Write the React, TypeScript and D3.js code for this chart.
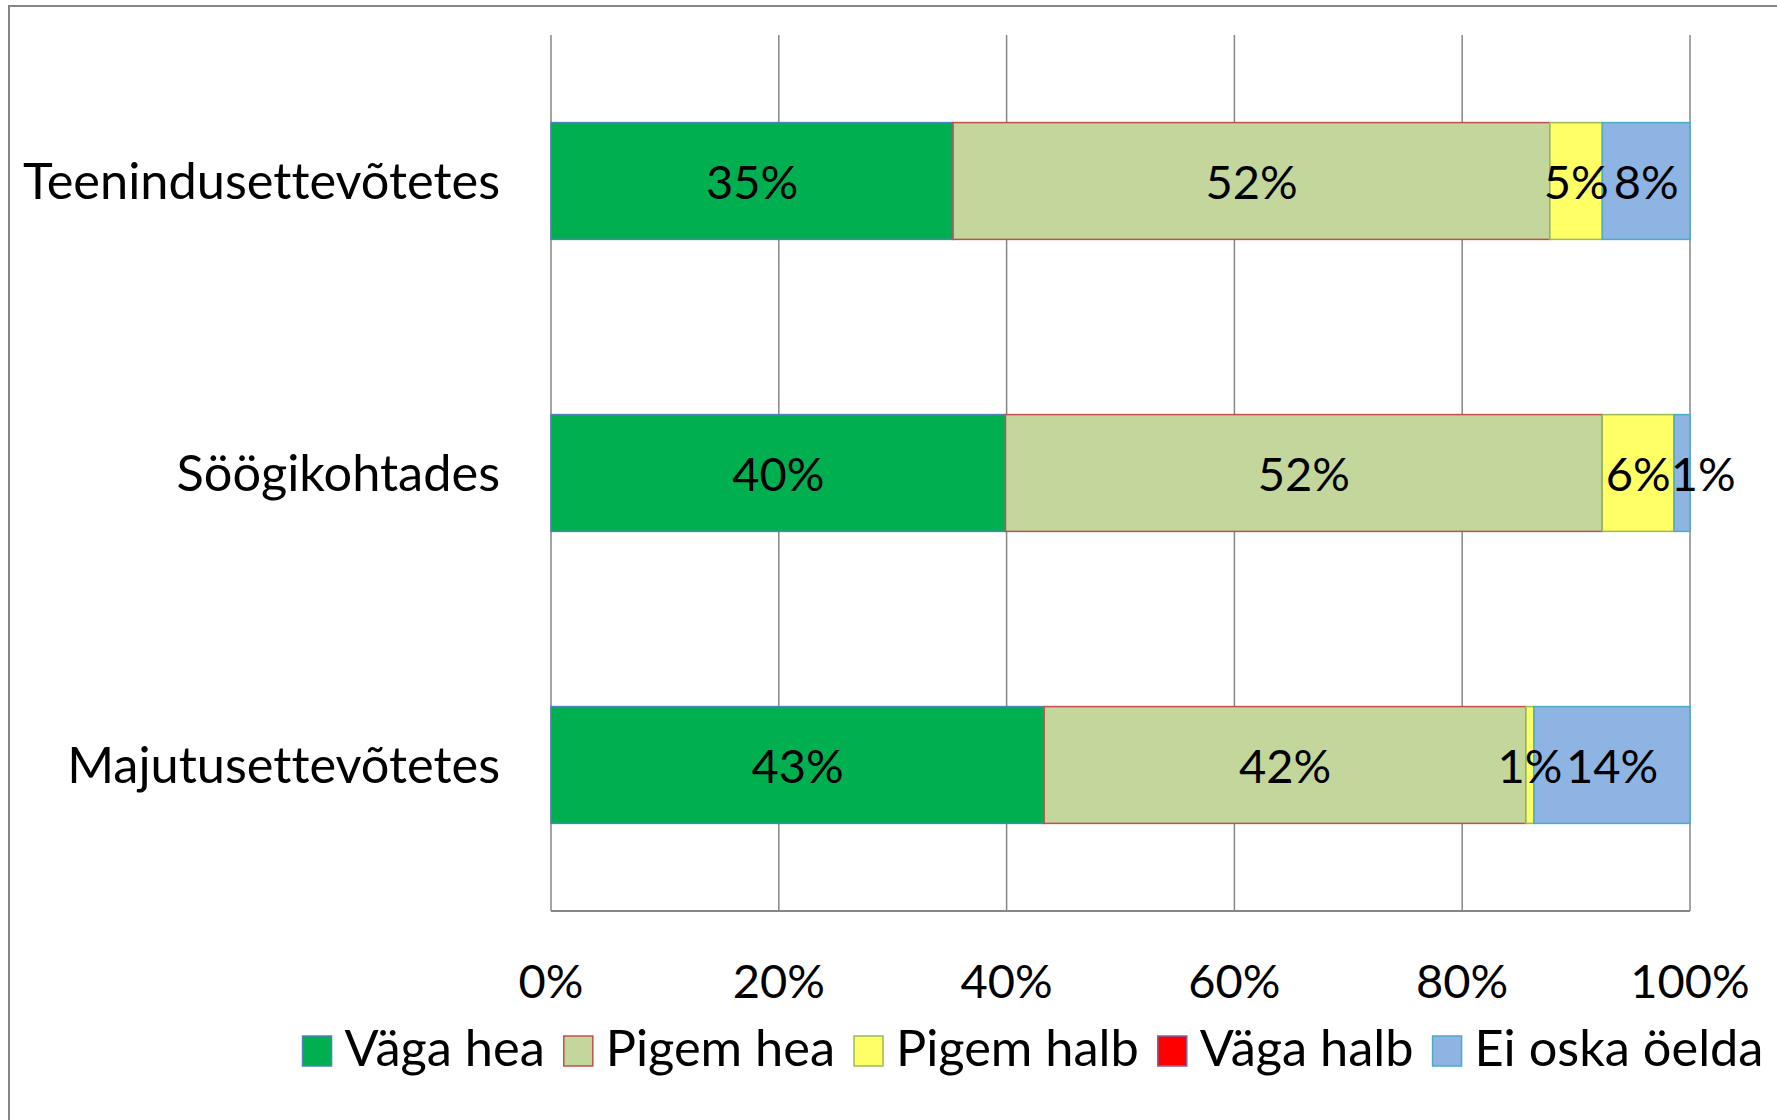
import React, { useEffect, useRef } from 'react';
import * as d3 from 'd3';

const categories = ['Teenindusettevõtetes', 'Söögikohtades', 'Majutusettevõtetes'];
const seriesNames = ['Väga hea', 'Pigem hea', 'Pigem halb', 'Väga halb', 'Ei oska öelda'];
const vagaHea = [35.3, 39.9, 43.3];
const pigemHea = [52.4, 52.4, 42.3];
const pigemHalb = [4.6, 6.3, 0.7];
const vagaHalb = [0, 0, 0];
const eiOska = [7.7, 1.4, 13.7];
const tickValues = [0, 0.2, 0.4, 0.6, 0.8, 1];

const fills = ['#00B050', '#C3D69B', '#FFFF66', '#FF0000', '#8EB4E3'];
const strokes = ['#4F81BD', '#C0504D', '#9BBB59', '#8064A2', '#4BACC6'];
const FONT = 'Lato, "Open Sans", sans-serif';
const FS = 47; // numbers
const FS_TXT = 50.5; // words

const App = () => {
  const ref = useRef<SVGSVGElement>(null);

  useEffect(() => {
    const svg = d3.select(ref.current);
    svg.selectAll('*').remove();
    svg.style('font-variant-ligatures', 'none');

    const W = 1777, H = 1120;
    const margin = { top: 35, left: 551, right: 87, bottom: 209 };
    const width = W - margin.left - margin.right;
    const height = H - margin.top - margin.bottom;

    svg.append('rect').attr('width', W).attr('height', H).attr('fill', '#fff');
    // chart area border (clipped at right/bottom)
    svg.append('rect')
      .attr('x', 9).attr('y', 6).attr('width', W + 20).attr('height', H + 20)
      .attr('fill', 'none').attr('stroke', '#868686').attr('stroke-width', 2);

    const rows = categories.map((c, i) => ({
      cat: c,
      'Väga hea': vagaHea[i],
      'Pigem hea': pigemHea[i],
      'Pigem halb': pigemHalb[i],
      'Väga halb': vagaHalb[i],
      'Ei oska öelda': eiOska[i],
    }));
    const stacked = d3.stack<any>().keys(seriesNames).offset(d3.stackOffsetExpand)(rows);

    const x = d3.scaleLinear().domain([0, 1]).range([0, width]);
    const y = d3.scaleBand().domain(categories).range([0, height]).paddingInner(0.6).paddingOuter(0.3);

    const g = svg.append('g').attr('transform', `translate(${margin.left},${margin.top})`);

    // gridlines
    g.selectAll('line.grid')
      .data(tickValues)
      .enter()
      .append('line')
      .attr('x1', d => x(d)).attr('x2', d => x(d))
      .attr('y1', 0).attr('y2', height)
      .attr('stroke', '#868686').attr('stroke-width', 1.5);
    g.append('line')
      .attr('x1', 0).attr('x2', width).attr('y1', height).attr('y2', height)
      .attr('stroke', '#868686').attr('stroke-width', 2);

    // bars
    stacked.forEach((s, si) => {
      g.append('g')
        .selectAll('rect')
        .data(s)
        .enter()
        .filter((d: any) => d[1] - d[0] > 0)
        .append('rect')
        .attr('x', (d: any) => x(d[0]))
        .attr('y', (d: any) => y(d.data.cat)!)
        .attr('width', (d: any) => x(d[1]) - x(d[0]))
        .attr('height', y.bandwidth())
        .attr('fill', fills[si])
        .attr('stroke', strokes[si])
        .attr('stroke-width', 1.5);
    });

    // data labels, shifted right if they would overlap the previous one
    categories.forEach((c, ci) => {
      let prevRight = -Infinity;
      stacked.forEach(s => {
        const d: any = s[ci];
        const v = d.data[s.key];
        if (!v) return;
        const t = g.append('text')
          .attr('y', y(c)! + y.bandwidth() / 2)
          .attr('dy', '0.38em')
          .attr('text-anchor', 'middle')
          .style('font-family', FONT)
          .style('font-size', `${FS}px`)
          .text(`${Math.round(v)}%`);
        const w = (t.node() as SVGTextElement).getComputedTextLength();
        let cx = (x(d[0]) + x(d[1])) / 2;
        if (cx - w / 2 < prevRight) cx = prevRight + w / 2;
        t.attr('x', cx);
        prevRight = cx + w / 2;
      });
    });

    // category labels
    g.selectAll('text.cat')
      .data(categories)
      .enter()
      .append('text')
      .attr('x', -51)
      .attr('y', d => y(d)! + y.bandwidth() / 2)
      .attr('dy', '0.36em')
      .attr('text-anchor', 'end')
      .style('font-family', FONT)
      .style('font-size', `${FS_TXT}px`)
      .text(d => d);

    // x tick labels
    g.selectAll('text.tick')
      .data(tickValues)
      .enter()
      .append('text')
      .attr('x', d => x(d))
      .attr('y', height + 87)
      .attr('text-anchor', 'middle')
      .style('font-family', FONT)
      .style('font-size', `${FS}px`)
      .text(d => d3.format('.0%')(d));

    // legend
    const legend = svg.append('g');
    let lx = 0;
    seriesNames.forEach((name, i) => {
      const item = legend.append('g').attr('transform', `translate(${lx},0)`);
      item.append('rect')
        .attr('x', 0).attr('y', -30).attr('width', 29).attr('height', 30)
        .attr('fill', fills[i]).attr('stroke', strokes[i]).attr('stroke-width', 1.5);
      const t = item.append('text')
        .attr('x', 42).attr('y', 0)
        .style('font-family', FONT)
        .style('font-size', `${FS_TXT}px`)
        .text(name);
      const w = (t.node() as SVGTextElement).getComputedTextLength();
      lx += 42 + w + 19;
    });
    const total = lx - 19;
    legend.attr('transform', `translate(${1033 - total / 2},1066)`);
  }, []);

  return (
    <svg ref={ref} width={1777} height={1120} style={{ position: 'absolute', left: 0, top: 0 }} />
  );
};

export default App;
